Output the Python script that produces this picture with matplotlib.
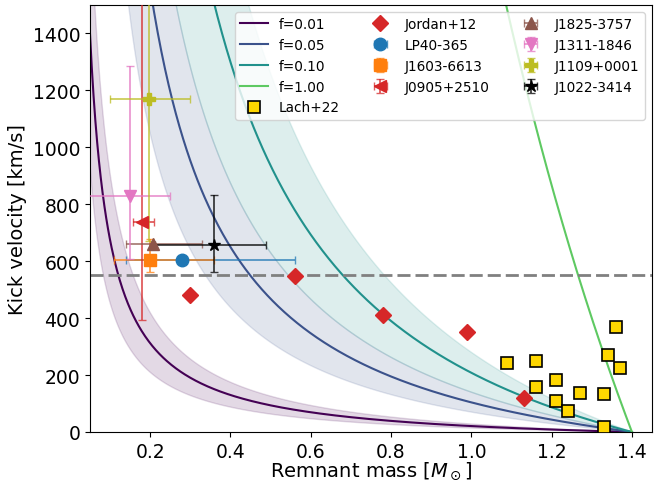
import numpy as np
import matplotlib
matplotlib.use("Agg")
import matplotlib.pyplot as plt
from matplotlib.colors import to_rgba

# Model parameters
fValues: list = [0.01, 0.05, 0.10, 1.00]
fLabels: list = ["f=0.01", "f=0.05", "f=0.10", "f=1.00"]
fBand: list = [True, True, True, False]
mChandra: float = 1.4
vEjecta: float = 5200.0
vEjectaLow: float = 3500.0
vEjectaHigh: float = 7000.0
kickLimit: float = 550.0

# Jordan+12
jordanMass: list = [0.30, 0.56, 0.78, 0.99, 1.13]
jordanKick: list = [481, 547, 410, 350, 118]

# Lach+22
lachMass: list = [1.09, 1.16, 1.16, 1.21, 1.21, 1.24, 1.27, 1.33, 1.33, 1.34, 1.37, 1.36]
lachKick: list = [241, 249, 157, 183, 110, 75, 137, 133, 16, 270, 225, 368]

# Individual objects: name, mass, mass err (-, +), kick, kick err (-, +)
starNames: list = ["LP40-365", "J1603-6613", "J0905+2510", "J1825-3757", "J1311-1846", "J1109+0001", "J1022-3414"]
starMass: list = [0.279, 0.20, 0.179, 0.208, 0.150, 0.198, 0.359]
starMassLow: list = [0.139, 0.09, 0.021, 0.068, 0.12, 0.098, 0.147]
starMassHigh: list = [0.282, 0.16, 0.030, 0.120, 0.099, 0.101, 0.129]
starKick: list = [605, 604, 736, 660, 830, 1170, 657]
starKickLow: list = [0, 41, 342, 0, 222, 500, 94]
starKickHigh: list = [0, 74, 1000, 0, 454, 600, 175]
starColors: list = ["tab:blue", "tab:orange", "tab:red", "tab:brown", "tab:pink", "tab:olive", "black"]
starMarkers: list = ["o", "s", "<", "^", "v", "P", "*"]

fig = plt.figure(figsize=[6.71, 4.81], dpi=100)
axes = fig.add_axes([0.134, 0.0998, 0.8377, 0.8877])

lineColors = plt.cm.viridis(np.linspace(0, 1, 5))[:4]
massGrid = np.linspace(0.05, mChandra, 600)
ejectaRatio = (mChandra - massGrid) / massGrid

handles: list = []
# Model curves and bands
for i in range(0, len(fValues), 1):
    line, = axes.plot(massGrid, fValues[i] * vEjecta * ejectaRatio, color=lineColors[i], lw=1.5, label=fLabels[i])
    handles.append(line)
    if fBand[i]:
        axes.fill_between(massGrid, fValues[i] * vEjectaLow * ejectaRatio, fValues[i] * vEjectaHigh * ejectaRatio,
                          color=lineColors[i], alpha=0.15)

axes.axhline(kickLimit, color="grey", lw=2, dashes=(4.7, 1.8), zorder=2)

# Lach+22
lach, = axes.plot(lachMass, lachKick, ls="none", marker="s", ms=8, mfc="gold", mec="black", mew=1.2,
                  label="Lach+22", zorder=4)
handles.append(lach)

# Jordan+12
jordan, = axes.plot(jordanMass, jordanKick, ls="none", marker="D", ms=8, color="tab:red", label="Jordan+12", zorder=4)
handles.append(jordan)

# Individual objects
for i in range(0, len(starNames), 1):
    yErr = None
    if starKickLow[i] > 0 or starKickHigh[i] > 0:
        yErr = [[starKickLow[i]], [starKickHigh[i]]]
    container = axes.errorbar([starMass[i]], [starKick[i]], xerr=[[starMassLow[i]], [starMassHigh[i]]], yerr=yErr,
                              fmt=starMarkers[i], color=starColors[i], ecolor=to_rgba(starColors[i], 0.75),
                              ms=9, elinewidth=1.3, capsize=3, label=starNames[i], zorder=3)
    handles.append(container)

axes.set_xlim(0.05, 1.45)
axes.set_ylim(0, 1500)
axes.set_xlabel(r"Remnant mass [$M_\odot$]", fontsize=14, labelpad=-1)
axes.set_ylabel("Kick velocity [km/s]", fontsize=14)
axes.tick_params(labelsize=13.5)
axes.legend(handles=handles, loc="upper right", ncol=3, fontsize=9.8)

plt.savefig("out.png", dpi=100)
